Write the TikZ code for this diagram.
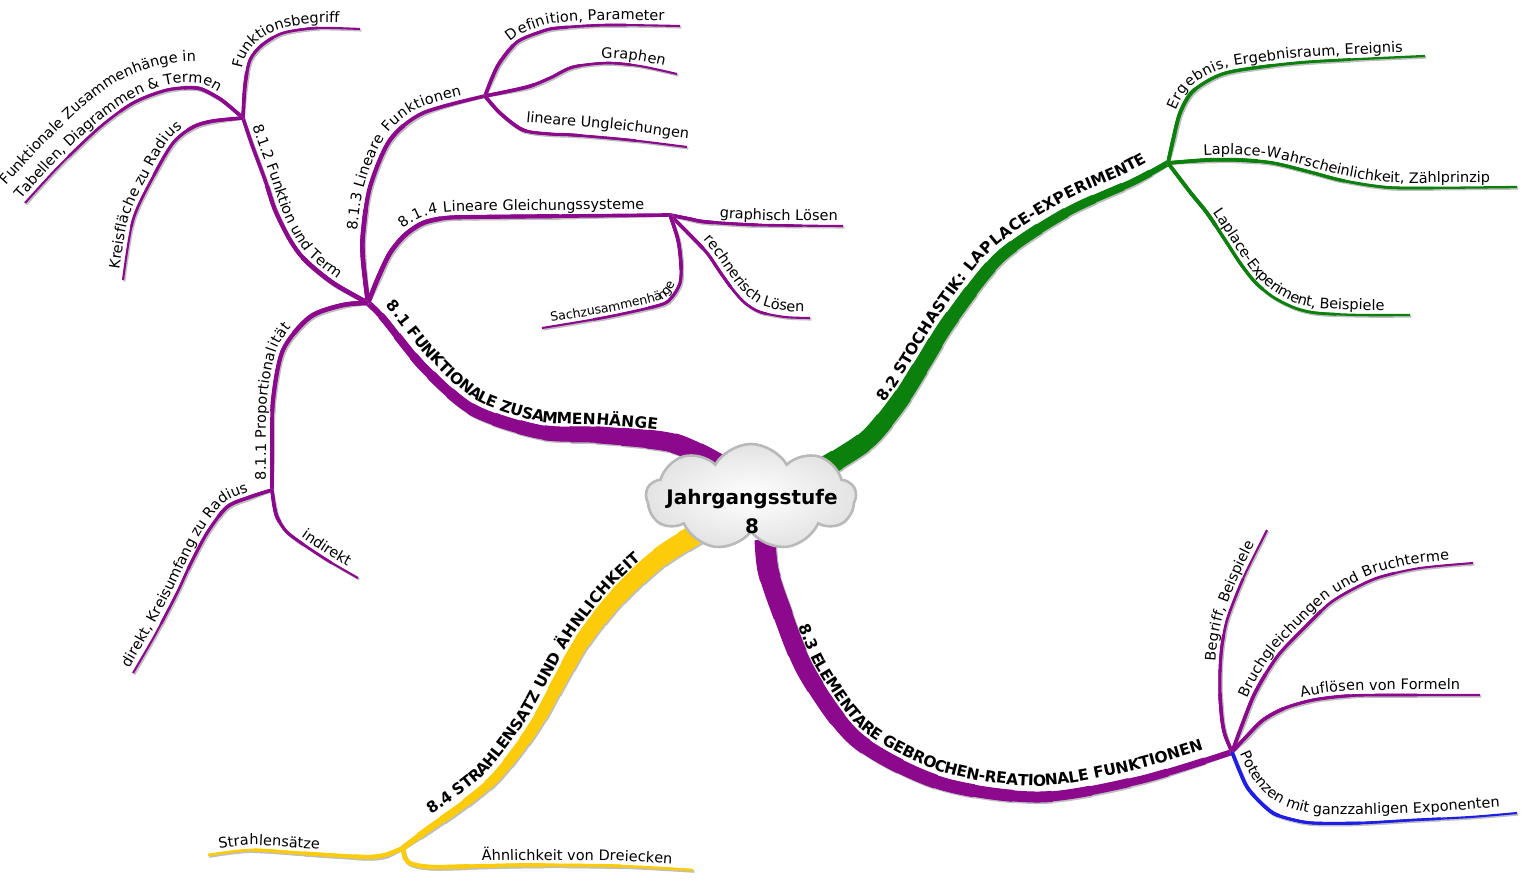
\documentclass[tikz,border=0pt]{standalone}
\usepackage{fontspec}
\setmainfont{DejaVu Sans}
\usetikzlibrary{decorations.text,shapes.symbols}
\definecolor{purp}{RGB}{140,8,140}
\definecolor{grn}{RGB}{12,128,12}
\definecolor{yel}{RGB}{252,204,10}
\definecolor{blu}{RGB}{30,30,230}
\definecolor{shd}{RGB}{190,190,190}
\newcommand\sfnt{\fontsize{14.5}{17}\selectfont}
\newcommand\tfnt{\fontsize{12.5}{15}\selectfont}
\newcommand\mfnt{\bfseries\fontsize{15.5}{18}\selectfont}
% tapered branch: #1 colour, #2 start width, #3 end width, #4 path length, #5 passes, #6 path
\newcommand\tbranch[6]{%
 \foreach \k in {1,...,#5}{%
  \pgfmathsetmacro\ww{#2-(#2-#3)*(#5-\k)/#5}%
  \pgfmathsetmacro\ll{#4*(#5-\k+1)/#5}%
  \draw[shd, line width=\ww pt, dash pattern=on \ll pt off 9000pt, shift={(1.3,1.5)}] #6;
 }%
 \foreach \k in {1,...,#5}{%
  \pgfmathsetmacro\ww{#2-(#2-#3)*(#5-\k)/#5}%
  \pgfmathsetmacro\ll{#4*(#5-\k+1)/#5}%
  \draw[#1, line width=\ww pt, dash pattern=on \ll pt off 9000pt] #6;
 }}
\newcommand\lbl[5]{%
 \path[decorate,decoration={text along path,text={|#1|#4},raise=#2,text align={left indent=#3},text color=black}] #5;}
\begin{document}
\begin{tikzpicture}[x=1pt,y=-1pt]
\fill[white] (0,0) rectangle (1522,881);
\useasboundingbox (0,0) rectangle (1522,881);
\coordinate (J1) at (368,303);
\coordinate (J11) at (272,490);
\coordinate (J12) at (243,118);
\coordinate (J13) at (485,96);
\coordinate (J14) at (670,215);
\coordinate (J2) at (1168,163);
\coordinate (J3) at (1232,752);
\coordinate (J4) at (403,848);
% ---------- main branches
\tbranch{purp}{21}{5}{415}{16}{plot[smooth] coordinates {(720,465) (673,443) (600,435) (540,432) (473,410) (423,367) (383,318) (J1)}}
\tbranch{grn}{21}{5}{498}{16}{plot[smooth] coordinates {(810,475) (840,458) (870,437) (900,400) (925,360) (950,320) (1000,257) (1067,212) (1133,182) (J2)}}
\tbranch{purp}{21}{5}{628}{16}{plot[smooth] coordinates {(765,540) (768,570) (780,607) (807,673) (857,740) (940,783) (1040,797) (1140,780) (J3)}}
\tbranch{yel}{21}{4.6}{459}{16}{plot[smooth] coordinates {(708,527) (660,557) (617,597) (583,640) (560,680) (540,717) (520,747) (493,780) (460,807) (427,830) (J4)}}
% ---------- 8.1 sub-branches
\tbranch{purp}{4.6}{3.2}{240}{3}{plot[smooth] coordinates {(J1) (333,283) (305,260) (290,240) (275,210) (265,180) (252,145) (J12)}}
\tbranch{purp}{4.6}{3.2}{282}{3}{plot[smooth] coordinates {(J1) (363,260) (363,233) (370,187) (390,140) (423,113) (J13)}}
\tbranch{purp}{4.6}{3.2}{355}{3}{plot[smooth] coordinates {(J1) (378,278) (390,253) (405,235) (423,223) (445,218) (473,217) (570,216) (J14)}}
\tbranch{purp}{4.6}{3.2}{249}{3}{plot[smooth] coordinates {(J1) (343,305) (310,317) (283,350) (273,400) (272,450) (J11)}}
% leaves of 8.1.2
\tbranch{purp}{3.6}{1.6}{183}{4}{plot[smooth] coordinates {(J12) (245,85) (250,60) (262,45) (283,33) (317,28) (360,29)}}
\tbranch{purp}{3.6}{1.6}{275}{4}{plot[smooth] coordinates {(J12) (228,105) (217,97) (197,88) (167,90) (133,103) (100,127) (60,165) (25,203)}}
\tbranch{purp}{3.6}{1.6}{228}{4}{plot[smooth] coordinates {(J12) (213,121) (193,127) (173,143) (153,177) (133,220) (123,280)}}
% leaves of 8.1.3
\tbranch{purp}{3.6}{1.6}{234}{4}{plot[smooth] coordinates {(J13) (492,78) (500,62) (517,42) (540,32) (557,28) (607,25) (680,26)}}
\tbranch{purp}{3.6}{1.6}{202}{4}{plot[smooth] coordinates {(J13) (527,87) (550,78) (573,67) (607,63) (640,66) (677,74)}}
\tbranch{purp}{3.6}{1.6}{220}{4}{plot[smooth] coordinates {(J13) (500,113) (523,130) (550,134) (573,135) (630,140) (687,147)}}
% leaves of 8.1.4
\tbranch{purp}{3.6}{1.6}{177}{4}{plot[smooth] coordinates {(J14) (690,219) (707,222) (760,225) (843,226)}}
\tbranch{purp}{3.6}{1.6}{188}{4}{plot[smooth] coordinates {(J14) (690,235) (707,253) (720,272) (733,290) (745,303) (760,312) (785,317) (810,318)}}
\tbranch{purp}{3.6}{1.6}{225}{4}{plot[smooth] coordinates {(J14) (678,240) (681,265) (680,283) (672,297) (660,305) (607,317) (542,328)}}
% leaves of 8.1.1
\tbranch{purp}{3.6}{1.6}{244}{4}{plot[smooth] coordinates {(J11) (250,497) (227,507) (207,533) (190,565) (177,593) (155,635) (133,673)}}
\tbranch{purp}{3.6}{1.6}{133}{4}{plot[smooth] coordinates {(J11) (274,505) (277,517) (285,530) (297,540) (327,560) (358,578)}}
% ---------- 8.2 leaves
\tbranch{grn}{3.8}{1.8}{321}{4}{plot[smooth] coordinates {(J2) (1173,140) (1180,113) (1192,92) (1215,77) (1240,70) (1307,62) (1425,56)}}
\tbranch{grn}{3.8}{1.8}{358}{4}{plot[smooth] coordinates {(J2) (1207,160) (1240,160) (1273,163) (1310,172) (1340,180) (1375,186) (1407,188) (1517,187)}}
\tbranch{grn}{3.8}{1.8}{317}{4}{plot[smooth] coordinates {(J2) (1190,192) (1207,213) (1225,240) (1240,263) (1255,282) (1273,297) (1295,308) (1317,313) (1360,315) (1410,315)}}
% ---------- 8.3 leaves
\tbranch{purp}{3.6}{1.6}{238}{4}{plot[smooth] coordinates {(J3) (1225,735) (1222,720) (1220,695) (1220,670) (1222,645) (1227,620) (1237,593) (1247,570) (1267,530)}}
\tbranch{purp}{3.6}{1.6}{338}{4}{plot[smooth] coordinates {(J3) (1242,725) (1253,697) (1265,675) (1280,653) (1305,627) (1330,603) (1355,588) (1380,577) (1420,568) (1473,563)}}
\tbranch{purp}{3.6}{1.6}{271}{4}{plot[smooth] coordinates {(J3) (1245,738) (1263,720) (1285,708) (1313,700) (1345,696) (1380,695) (1480,695)}}
\tbranch{blu}{3.6}{1.6}{326}{4}{plot[smooth] coordinates {(J3) (1240,772) (1247,787) (1258,800) (1273,813) (1290,819) (1313,823) (1360,823) (1413,820) (1470,817) (1517,813)}}
% ---------- 8.4 leaves
\tbranch{yel}{4.4}{2.0}{201}{4}{plot[smooth] coordinates {(J4) (385,855) (367,857) (330,855) (300,853) (250,850) (208,855)}}
\tbranch{yel}{4.4}{2.0}{306}{4}{plot[smooth] coordinates {(J4) (405,858) (412,864) (433,867) (480,866) (533,865) (620,866) (693,870)}}
% ---------- centre
\node[cloud, cloud puffs=9, cloud puff arc=120, aspect=2, minimum width=210pt, minimum height=106pt, draw=gray!55, line width=2.6pt, inner color=white, outer color=gray!22] (cloud) at (751,497) {};
\node[font=\bfseries\fontsize{20}{29}\selectfont, align=center] (title) at (752,512) {Jahrgangsstufe\\8};
% ---------- labels: main
\lbl{\mfnt}{10pt}{14pt}{8.1 FUNKTIONALE ZUSAMMENHÄNGE}{plot[smooth] coordinates {(J1) (383,318) (423,367) (473,410) (540,432) (600,435) (673,443) (720,465) (760,490)}}
\lbl{\mfnt}{11pt}{108pt}{8.2 STOCHASTIK: LAPLACE-EXPERIMENTE}{plot[smooth] coordinates {(810,475) (840,458) (870,437) (900,400) (925,360) (950,320) (1000,257) (1067,212) (1133,182) (J2) (1200,150)}}
\lbl{\mfnt}{11pt}{94pt}{8.3 ELEMENTARE GEBROCHEN-REATIONALE FUNKTIONEN}{plot[smooth] coordinates {(765,540) (768,570) (780,607) (807,673) (857,740) (940,783) (1040,797) (1140,780) (J3) (1270,735)}}
\lbl{\mfnt}{10pt}{42pt}{8.4 STRAHLENSATZ UND ÄHNLICHKEIT}{plot[smooth] coordinates {(J4) (427,830) (460,807) (493,780) (520,747) (540,717) (560,680) (583,640) (617,597) (660,557) (708,527) (740,510)}}
% ---------- labels: 8.1
\lbl{\sfnt}{0pt}{11pt}{8.1.2 Funktion und Term}{plot[smooth] coordinates {(249,116) (258,143) (271,178) (281,208) (295,237) (309,256) (336,278) (371,298) (395,311)}}
\lbl{\sfnt}{6pt}{72pt}{8.1.3 Lineare Funktionen}{plot[smooth] coordinates {(J1) (363,260) (363,233) (370,187) (390,140) (423,113) (J13) (520,88)}}
\lbl{\sfnt}{6pt}{80pt}{8.1.4 Lineare Gleichungssysteme}{plot[smooth] coordinates {(J1) (378,278) (390,253) (405,235) (423,223) (445,218) (473,217) (570,216) (J14) (720,215)}}
\lbl{\sfnt}{6pt}{10pt}{8.1.1 Proportionalität}{plot[smooth] coordinates {(J11) (272,450) (273,400) (283,350) (310,317) (343,305) (J1) (400,303)}}
\lbl{\sfnt}{0pt}{0pt}{Funktionsbegriff}{plot[smooth] coordinates {(242,69) (246,56) (258,41) (280,29) (317,23) (360,24) (400,26)}}
\lbl{\sfnt}{0pt}{0pt}{Tabellen, Diagrammen {\&} Termen}{plot[smooth] coordinates {(21,200) (56,161) (97,123) (131,99) (166,85) (198,83) (220,93) (231,101) (246,114) (270,138)}}
\lbl{\sfnt}{0pt}{0pt}{Funktionale Zusammenhänge  in}{plot[smooth] coordinates {(6,185) (42,146) (83,107) (120,80) (161,65) (201,62) (230,74) (252,90)}}
\lbl{\sfnt}{5pt}{10pt}{Kreisfläche zu Radius}{plot[smooth] coordinates {(123,280) (133,220) (153,177) (173,143) (193,127) (213,121) (J12) (275,117)}}
\lbl{\sfnt}{5pt}{58pt}{Definition, Parameter}{plot[smooth] coordinates {(J13) (492,78) (500,62) (517,42) (540,32) (557,28) (607,25) (680,26) (720,26)}}
\lbl{\sfnt}{5pt}{122pt}{Graphen}{plot[smooth] coordinates {(J13) (527,87) (550,78) (573,67) (607,63) (640,66) (677,74) (700,79)}}
\lbl{\sfnt}{0pt}{0pt}{lineare Ungleichungen}{plot[smooth] coordinates {(526,122) (560,125) (620,130) (690,139) (730,144)}}
\lbl{\sfnt}{5pt}{50pt}{graphisch Lösen}{plot[smooth] coordinates {(J14) (690,219) (707,222) (760,225) (843,226) (880,226)}}
\lbl{\sfnt}{0pt}{0pt}{rechnerisch Lösen}{plot[smooth] coordinates {(703,240) (715,254) (728,273) (743,292) (761,305) (786,311) (815,312) (850,312)}}
\lbl{\tfnt}{4.5pt}{10pt}{Sachzusammenhänge}{plot[smooth] coordinates {(542,328) (607,317) (660,305) (672,297) (680,283) (681,265) (678,240) (J14) (665,195)}}
\lbl{\sfnt}{0pt}{0pt}{direkt, Kreisumfang zu Radius}{plot[smooth] coordinates {(129,668) (150,632) (172,591) (186,562) (203,530) (224,503) (248,492) (272,485) (300,481)}}
\lbl{\sfnt}{5pt}{60pt}{indirekt}{plot[smooth] coordinates {(J11) (274,505) (277,517) (285,530) (297,540) (327,560) (358,578) (380,591)}}
% ---------- labels: 8.2
\lbl{\sfnt}{5pt}{52pt}{Ergebnis, Ergebnisraum, Ereignis}{plot[smooth] coordinates {(J2) (1173,140) (1180,113) (1192,92) (1215,77) (1240,70) (1307,62) (1425,56) (1460,55)}}
\lbl{\sfnt}{5pt}{36pt}{Laplace-Wahrscheinlichkeit, Zählprinzip}{plot[smooth] coordinates {(J2) (1207,160) (1240,160) (1273,163) (1310,172) (1340,180) (1375,186) (1407,188) (1517,187) (1560,187)}}
\lbl{\sfnt}{5pt}{66pt}{Laplace-Experiment, Beispiele}{plot[smooth] coordinates {(J2) (1190,192) (1207,213) (1225,240) (1240,263) (1255,282) (1273,297) (1295,308) (1317,313) (1360,315) (1410,315) (1450,315)}}
% ---------- labels: 8.3
\lbl{\sfnt}{5pt}{92pt}{Begriff, Beispiele}{plot[smooth] coordinates {(J3) (1225,735) (1222,720) (1220,695) (1220,670) (1222,645) (1227,620) (1237,593) (1247,570) (1267,530) (1280,505)}}
\lbl{\sfnt}{5pt}{55pt}{Bruchgleichungen und Bruchterme}{plot[smooth] coordinates {(J3) (1242,725) (1253,697) (1265,675) (1280,653) (1305,627) (1330,603) (1355,588) (1380,577) (1420,568) (1473,563) (1510,561)}}
\lbl{\sfnt}{5pt}{88pt}{Auflösen von Formeln}{plot[smooth] coordinates {(J3) (1245,738) (1263,720) (1285,708) (1313,700) (1345,696) (1380,695) (1480,695) (1520,695)}}
\lbl{\sfnt}{0pt}{0pt}{Potenzen mit ganzzahligen Exponenten}{plot[smooth] coordinates {(1240,753) (1251,776) (1267,795) (1291,808) (1322,814) (1413,813) (1517,806) (1550,804)}}
% ---------- labels: 8.4
\lbl{\sfnt}{5pt}{12pt}{Strahlensätze}{plot[smooth] coordinates {(208,855) (250,850) (300,853) (330,855) (367,857) (385,855) (J4)}}
\lbl{\sfnt}{5pt}{90pt}{Ähnlichkeit von Dreiecken}{plot[smooth] coordinates {(J4) (405,858) (412,864) (433,867) (480,866) (533,865) (620,866) (693,870) (730,872)}}
\end{tikzpicture}
\end{document}
